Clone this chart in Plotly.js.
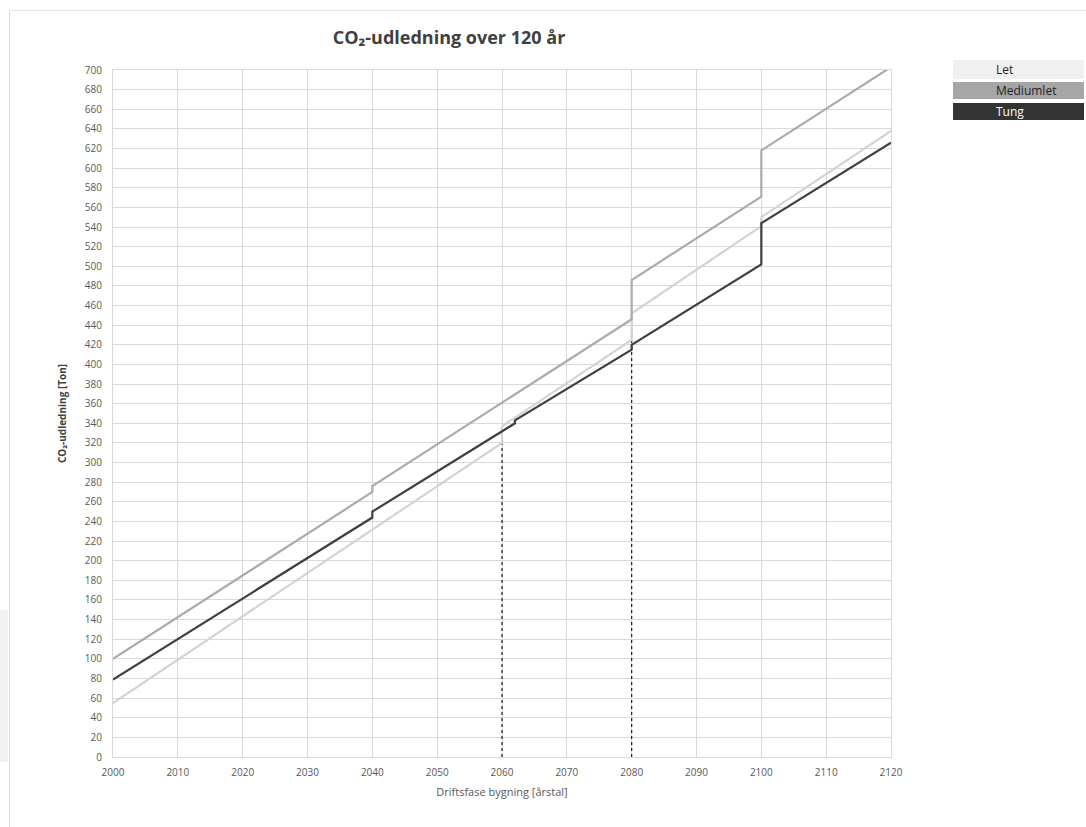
<!DOCTYPE html>
<html>
<head>
<meta charset="utf-8">
<script src="https://cdn.plot.ly/plotly-3.0.1.min.js"></script>
<style>html,body{margin:0;padding:0;background:#fff;}#chart{width:1086px;height:827px;}</style>
</head>
<body>
<div id="chart"></div>
<script>
// ---- data ----
const seriesNames = ["Let", "Mediumlet", "Tung"];
const letYears = [2000, 2060, 2060, 2080, 2080, 2100, 2100, 2120];
const letValues = [55, 320, 337, 425, 452, 541, 550, 638];
const mediumYears = [2000, 2040, 2040, 2080, 2080, 2100, 2100, 2120];
const mediumValues = [100, 270, 276, 446, 486, 571, 618, 703];
const tungYears = [2000, 2040, 2040, 2062, 2062, 2080, 2080, 2100, 2100, 2120];
const tungValues = [79, 244, 250, 340, 343, 415, 420, 502, 544, 626];
const markerYears = [2060, 2080];
const markerTops = [320, 446];
const xTicks = [2000, 2010, 2020, 2030, 2040, 2050, 2060, 2070, 2080, 2090, 2100, 2110, 2120];
const yTicks = [];
for (let v = 0; v <= 700; v += 20) yTicks.push(v);

// ---- layout helpers (pixel -> paper) ----
const W = 1086, H = 827, L = 113, R = 891, T = 70, B = 757;
const px = x => (x - L) / (R - L);
const py = y => (B - y) / (B - T);

const colors = {Let: "#d3d3d3", Mediumlet: "#ababab", Tung: "#3f3f3f"};
const font = "Open Sans, Lato, sans-serif";

const traces = [];
markerYears.forEach((yr, i) => {
  traces.push({x: [yr, yr], y: [0, markerTops[i]], mode: "lines", type: "scatter",
    line: {color: "#1a1a1a", width: 1.2, dash: "dot"}, showlegend: false, hoverinfo: "skip"});
});
traces.push({x: letYears, y: letValues, name: seriesNames[0], mode: "lines", type: "scatter",
  line: {color: colors.Let, width: 2.2}, showlegend: false});
traces.push({x: mediumYears, y: mediumValues, name: seriesNames[1], mode: "lines", type: "scatter",
  line: {color: colors.Mediumlet, width: 2.2}, showlegend: false});
traces.push({x: tungYears, y: tungValues, name: seriesNames[2], mode: "lines", type: "scatter",
  line: {color: colors.Tung, width: 2.2}, showlegend: false});

// legend boxes (drawn as paper shapes + text)
const legendBoxes = [
  {name: seriesNames[0], y0: 60, y1: 79, fill: "#f0f0f0", text: "#262626"},
  {name: seriesNames[1], y0: 82, y1: 99, fill: "#a6a6a6", text: "#1f1f1f"},
  {name: seriesNames[2], y0: 103, y1: 120, fill: "#333333", text: "#ffffff"}
];
const shapes = [
  {type: "rect", xref: "paper", yref: "paper", x0: px(0), x1: px(8), y0: py(762), y1: py(610),
    fillcolor: "#f2f2f2", line: {width: 0}, layer: "below"},
  {type: "line", xref: "paper", yref: "paper", x0: px(9.5), x1: px(9.5), y0: py(10), y1: py(827),
    line: {color: "#d9d9d9", width: 1}},
  {type: "line", xref: "paper", yref: "paper", x0: px(9.5), x1: px(1086), y0: py(10.5), y1: py(10.5),
    line: {color: "#e6e6e6", width: 1}}
];
const annotations = [];
legendBoxes.forEach(b => {
  shapes.push({type: "rect", xref: "paper", yref: "paper", x0: px(953), x1: px(1084),
    y0: py(b.y1), y1: py(b.y0), fillcolor: b.fill, line: {width: 0}});
  annotations.push({xref: "paper", yref: "paper", x: px(994), y: py((b.y0 + b.y1) / 2),
    xanchor: "left", yanchor: "middle", text: b.name, showarrow: false,
    font: {family: font, size: 12, color: b.text}});
});

const layout = {
  width: W, height: H,
  margin: {l: L, r: W - R, t: T, b: H - B, pad: 0},
  paper_bgcolor: "#ffffff", plot_bgcolor: "#ffffff",
  font: {family: font, color: "#595959", size: 10},
  title: {text: "<b>CO₂-udledning over 120 år</b>", xref: "paper", x: px(449), xanchor: "center",
    yref: "container", y: 1 - 38 / H, yanchor: "middle",
    font: {family: font, size: 18, color: "#404040"}},
  xaxis: {range: [2000, 2120], tickmode: "array", tickvals: xTicks, ticktext: xTicks.map(String),
    showgrid: true, gridcolor: "#d9d9d9", gridwidth: 1, zeroline: false,
    showline: true, linecolor: "#d9d9d9", linewidth: 1, mirror: true, ticks: "",
    ticklabelstandoff: 6,
    tickfont: {size: 10, color: "#595959"},
    title: {text: "Driftsfase bygning [årstal]", standoff: 10, font: {size: 11, color: "#595959"}}},
  yaxis: {range: [0, 700], tickmode: "array", tickvals: yTicks, ticktext: yTicks.map(String),
    showgrid: true, gridcolor: "#d9d9d9", gridwidth: 1, zeroline: false,
    showline: true, linecolor: "#d9d9d9", linewidth: 1, mirror: true, ticks: "",
    ticklabelstandoff: 8,
    tickfont: {size: 10, color: "#595959"},
    title: {text: "<b>CO₂-udledning [Ton]</b>", standoff: 16, font: {size: 10, color: "#404040"}}},
  shapes: shapes,
  annotations: annotations,
  showlegend: false
};

Plotly.newPlot("chart", traces, layout, {displayModeBar: false, staticPlot: true});
</script>
</body>
</html>
